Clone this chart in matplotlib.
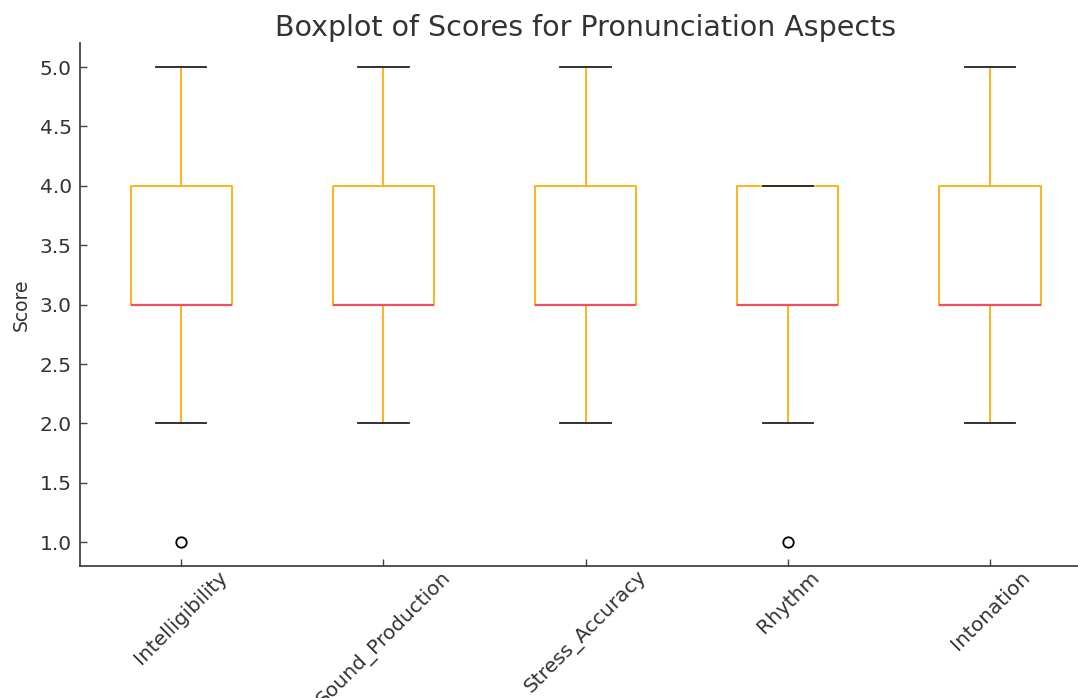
import matplotlib
matplotlib.use("Agg")
import matplotlib.pyplot as plt

# Summary statistics for each aspect
aspects = ["Intelligibility", "Sound_Production", "Stress_Accuracy", "Rhythm", "Intonation"]
q1 = [3.0, 3.0, 3.0, 3.0, 3.0]
medians = [3.0, 3.0, 3.0, 3.0, 3.0]
q3 = [4.0, 4.0, 4.0, 4.0, 4.0]
whisker_low = [2.0, 2.0, 2.0, 2.0, 2.0]
whisker_high = [5.0, 5.0, 5.0, 4.0, 5.0]
outliers = [[1.0], [], [], [1.0], []]

stats = []
for name, a, m, b, lo, hi, fl in zip(aspects, q1, medians, q3, whisker_low, whisker_high, outliers):
    stats.append({"label": name, "q1": a, "med": m, "q3": b,
                  "whislo": lo, "whishi": hi, "fliers": fl})

text_color = "#333333"
box_color = "#FFB21C"
median_color = "#F04E62"

fig = plt.figure(figsize=(10.78, 6.98), dpi=100)
ax = fig.add_axes([0.0742, 0.189, 0.938, 0.749])

ax.bxp(stats, showfliers=True,
       boxprops=dict(color=box_color, linewidth=1.4),
       whiskerprops=dict(color=box_color, linewidth=1.4),
       capprops=dict(color="#222222", linewidth=1.3),
       medianprops=dict(color=median_color, linewidth=1.6),
       flierprops=dict(marker="o", markerfacecolor="none", markeredgecolor="black",
                       markersize=7.5, markeredgewidth=1.3))

ax.set_ylim(0.8, 5.2)
ax.set_xlim(0.5, 5.5)
ax.set_yticks([1.0, 1.5, 2.0, 2.5, 3.0, 3.5, 4.0, 4.5, 5.0])
ax.set_yticklabels([f"{v:.1f}" for v in ax.get_yticks()])
ax.set_xticklabels(aspects, rotation=45, ha="center")

for side in ["top", "right"]:
    ax.spines[side].set_visible(False)
for side in ["left", "bottom"]:
    ax.spines[side].set_color("#444444")
    ax.spines[side].set_linewidth(1.3)

ax.tick_params(direction="in", length=5, width=1, colors="#444444",
               labelcolor=text_color, labelsize=14.5)
ax.tick_params(axis="y", pad=6)
ax.tick_params(axis="x", pad=1)

ax.set_ylabel("Score", fontsize=13.5, color=text_color, labelpad=6)
ax.set_title("Boxplot of Scores for Pronunciation Aspects", fontsize=20.5,
             color=text_color, pad=5)

fig.savefig("out.png", dpi=100)
